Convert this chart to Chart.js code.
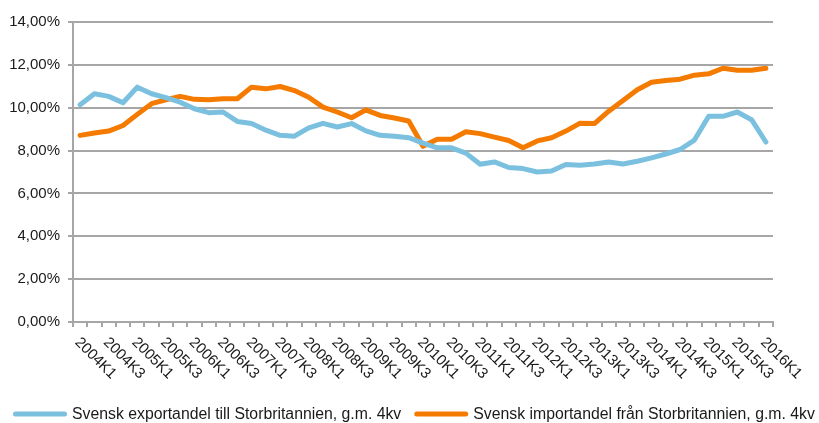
<!DOCTYPE html>
<html>
<head>
<meta charset="utf-8">
<script src="https://cdn.jsdelivr.net/npm/chart.js@4.4.1/dist/chart.umd.min.js"></script>
<style>
  html, body { margin: 0; padding: 0; background: #fff; }
  #wrap { width: 819px; height: 423px; }
</style>
</head>
<body>
<div id="wrap"><canvas id="andel" width="819" height="423"></canvas></div>
<script>
  // kvartal 2004K1 - 2016K1
  var kvartal = [
    "2004K1","2004K2","2004K3","2004K4","2005K1","2005K2","2005K3","2005K4",
    "2006K1","2006K2","2006K3","2006K4","2007K1","2007K2","2007K3","2007K4",
    "2008K1","2008K2","2008K3","2008K4","2009K1","2009K2","2009K3","2009K4",
    "2010K1","2010K2","2010K3","2010K4","2011K1","2011K2","2011K3","2011K4",
    "2012K1","2012K2","2012K3","2012K4","2013K1","2013K2","2013K3","2013K4",
    "2014K1","2014K2","2014K3","2014K4","2015K1","2015K2","2015K3","2015K4",
    "2016K1"
  ];

  var exportandel = [
    10.14, 10.65, 10.53, 10.23, 10.96, 10.65, 10.47, 10.26,
    9.95, 9.77, 9.80, 9.36, 9.26, 8.95, 8.71, 8.67,
    9.06, 9.27, 9.10, 9.26, 8.92, 8.71, 8.67, 8.60,
    8.35, 8.13, 8.13, 7.88, 7.36, 7.47, 7.21, 7.16,
    7.00, 7.05, 7.35, 7.32, 7.37, 7.47, 7.37, 7.50,
    7.66, 7.84, 8.05, 8.49, 9.60, 9.60, 9.80, 9.44,
    8.40
  ];

  var importandel = [
    8.71, 8.82, 8.91, 9.17, 9.69, 10.19, 10.37, 10.53,
    10.39, 10.37, 10.42, 10.42, 10.96, 10.88, 10.99, 10.80,
    10.49, 10.03, 9.80, 9.53, 9.90, 9.64, 9.52, 9.38,
    8.20, 8.53, 8.53, 8.88, 8.79, 8.63, 8.47, 8.13,
    8.45, 8.60, 8.91, 9.28, 9.26, 9.84, 10.34, 10.84,
    11.19, 11.27, 11.33, 11.52, 11.58, 11.84, 11.75, 11.75,
    11.84
  ];

  var font = '"Liberation Sans", Arial, sans-serif';
  var gridColor = '#a6a6a6';
  var textColor = '#1a1a1a';

  // x labels are rotated clockwise (down-right), which chart.js can't do by itself
  var xLabels = {
    id: 'xLabels',
    afterDraw: function(chart) {
      var sc = chart.scales.x, ctx = chart.ctx;
      ctx.save();
      ctx.font = '15px ' + font;
      ctx.fillStyle = textColor;
      ctx.textAlign = 'left';
      ctx.textBaseline = 'middle';
      for (var i = 0; i < kvartal.length; i += 2) {
        var px = sc.getPixelForValue(i);
        ctx.save();
        ctx.translate(px - 3, sc.top + 18);
        ctx.rotate(Math.PI / 4);
        ctx.fillText(kvartal[i], 0, 0);
        ctx.restore();
      }
      ctx.restore();
    }
  };

  // legend on one line, excel style (the built in one wraps)
  var lineLegend = {
    id: 'lineLegend',
    afterDraw: function(chart) {
      var ctx = chart.ctx, y = 414, x = 15.5;
      ctx.save();
      ctx.font = '15.8px ' + font;
      ctx.textBaseline = 'middle';
      ctx.textAlign = 'left';
      chart.data.datasets.forEach(function(ds) {
        ctx.strokeStyle = ds.borderColor;
        ctx.lineWidth = 5;
        ctx.lineCap = 'round';
        ctx.beginPath();
        ctx.moveTo(x, y);
        ctx.lineTo(x + 49, y);
        ctx.stroke();
        ctx.fillStyle = textColor;
        ctx.fillText(ds.label, x + 56.5, y + 1);
        x += 56.5 + ctx.measureText(ds.label).width + 15.5;
      });
      ctx.restore();
    }
  };

  var andelChart = new Chart(document.getElementById("andel"), {
    type: 'line',
    data: {
      labels: kvartal,
      datasets: [
        {
          label: "Svensk exportandel till Storbritannien, g.m. 4kv",
          data: exportandel,
          borderColor: '#7cc0e0',
          backgroundColor: '#7cc0e0',
          borderWidth: 5,
          pointRadius: 0,
          tension: 0,
          borderCapStyle: 'round',
          borderJoinStyle: 'round'
        },
        {
          label: "Svensk importandel från Storbritannien, g.m. 4kv",
          data: importandel,
          borderColor: '#f47b00',
          backgroundColor: '#f47b00',
          borderWidth: 5,
          pointRadius: 0,
          tension: 0,
          borderCapStyle: 'round',
          borderJoinStyle: 'round'
        }
      ]
    },
    plugins: [xLabels, lineLegend],
    options: {
      responsive: false,
      animation: false,
      devicePixelRatio: 1,
      layout: { padding: { top: 22, right: 46, left: 0, bottom: 0 } },
      plugins: {
        tooltip: { enabled: false },
        legend: { display: false }
      },
      scales: {
        x: {
          offset: true,
          ticks: { display: false, autoSkip: false },
          grid: {
            offset: true,
            drawOnChartArea: false,
            drawTicks: true,
            tickLength: 5,
            color: gridColor,
            lineWidth: 2
          },
          border: { color: gridColor, width: 2 },
          afterFit: function(s) { s.height = 101; }
        },
        y: {
          min: 0,
          max: 14,
          ticks: {
            stepSize: 2,
            padding: 8,
            color: textColor,
            font: { family: font, size: 15 },
            callback: function(v) { return v.toFixed(2).replace('.', ',') + '%'; }
          },
          grid: {
            color: gridColor,
            lineWidth: 2,
            drawTicks: true,
            tickLength: 5
          },
          border: { color: gridColor, width: 2 },
          afterFit: function(s) { s.width = 73; }
        }
      }
    }
  });
</script>
</body>
</html>
